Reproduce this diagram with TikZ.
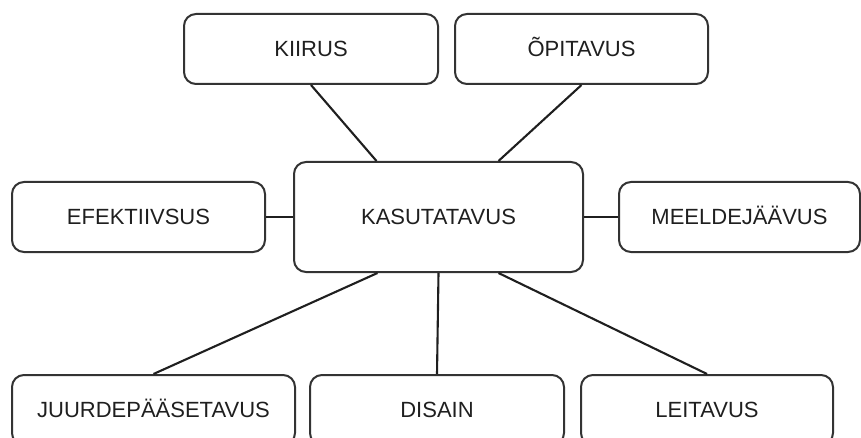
\documentclass[tikz,border=0pt]{standalone}
\usepackage{fontspec}
\setmainfont{Liberation Sans}
\usetikzlibrary{positioning}

\begin{document}
\begin{tikzpicture}[
  x=1pt,y=-1pt,
  box/.style={rectangle,draw=black!80,line width=2pt,rounded corners=12pt,align=center,minimum width=254pt,minimum height=70pt,inner sep=0pt,text height=15.8pt,text depth=0pt,text=black!88,font=\fontsize{22}{26}\selectfont},
  link/.style={line width=2.1pt,black!88}
]
\clip (0,0) rectangle (861,438);
\node[box,minimum width=289pt,minimum height=110pt] (kas) at (438.5,217) {KASUTATAVUS};
\node[box] (kiirus) at (311,49) {KIIRUS};
\node[box,minimum width=253pt] (opit) at (581.5,49) {ÕPITAVUS};
\node[box,minimum width=253pt] (efekt) at (138.5,217) {EFEKTIIVSUS};
\node[box,minimum width=241pt] (meelde) at (739.5,217) {MEELDEJÄÄVUS};
\node[box,minimum width=283pt] (juurde) at (153.5,410) {JUURDEPÄÄSETAVUS};
\node[box] (disain) at (437,410) {DISAIN};
\node[box,minimum width=252pt] (leit) at (707,410) {LEITAVUS};
\draw[link] (kiirus.south) -- ([xshift=-62pt]kas.north);
\draw[link] (opit.south) -- ([xshift=60pt]kas.north);
\draw[link] (efekt) -- (kas);
\draw[link] (kas) -- (meelde);
\draw[link] ([xshift=-61pt]kas.south) -- (juurde.north);
\draw[link] (kas.south) -- (disain.north);
\draw[link] ([xshift=60pt]kas.south) -- (leit.north);
\end{tikzpicture}
\end{document}
